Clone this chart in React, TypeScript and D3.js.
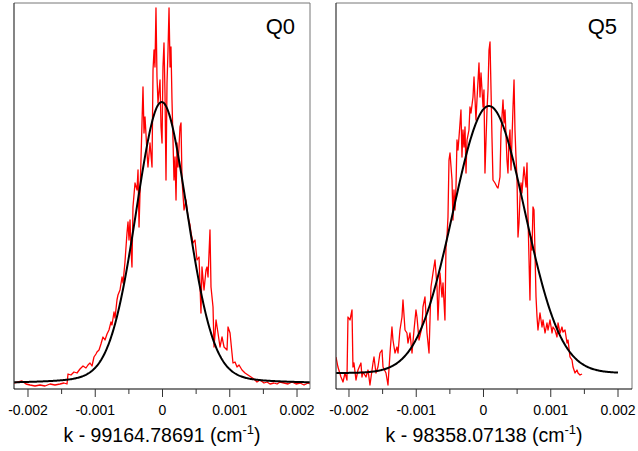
import React from "react";
import * as d3 from "d3";

// x in units of 1e-3 cm^-1 (offset from line centre), y in arbitrary intensity units
const q0Points: [number, number][] = [
  [-2.208,1],[-2.149,2],[-2.089,3],[-2.030,0],[-1.970,-1],[-1.896,-2],[-1.822,-1],[-1.747,-2],[-1.673,0],[-1.599,-1],
  [-1.524,0],[-1.465,1],[-1.420,0],[-1.405,10],[-1.361,9],[-1.316,12],[-1.271,11],[-1.227,15],[-1.182,18],[-1.138,16],
  [-1.108,19],[-1.078,21],[-1.048,18],[-1.019,27],[-0.989,30],[-0.974,32],[-0.944,34],[-0.915,40],[-0.885,47],[-0.855,44],
  [-0.825,50],[-0.796,54],[-0.766,62],[-0.751,59],[-0.721,72],[-0.706,66],[-0.677,84],[-0.662,89],[-0.632,94],[-0.602,107],
  [-0.587,101],[-0.558,122],[-0.528,151],[-0.513,162],[-0.498,144],[-0.483,164],[-0.468,134],[-0.454,117],[-0.439,177],[-0.409,201],
  [-0.379,194],[-0.364,214],[-0.349,157],[-0.320,224],[-0.305,261],[-0.290,297],[-0.275,251],[-0.260,267],[-0.230,231],[-0.216,217],
  [-0.186,241],[-0.156,217],[-0.141,314],[-0.126,334],[-0.112,317],[-0.097,376],[-0.082,307],[-0.067,281],[-0.037,304],[-0.022,257],
  [-0.007,241],[0.007,317],[0.022,341],[0.037,291],[0.052,204],[0.067,301],[0.082,334],[0.097,376],[0.112,317],[0.126,337],
  [0.141,284],[0.156,244],[0.171,204],[0.186,227],[0.201,184],[0.216,241],[0.230,217],[0.260,257],[0.275,261],[0.290,204],
  [0.320,174],[0.349,184],[0.379,167],[0.409,159],[0.424,151],[0.454,141],[0.483,144],[0.513,124],[0.543,127],[0.572,71],
  [0.587,117],[0.617,94],[0.647,114],[0.662,117],[0.677,107],[0.706,154],[0.721,97],[0.751,77],[0.766,37],[0.796,64],
  [0.825,51],[0.855,37],[0.885,47],[0.915,37],[0.959,34],[0.974,57],[1.004,51],[1.033,31],[1.048,21],[1.078,22],
  [1.108,17],[1.138,19],[1.182,14],[1.227,11],[1.271,9],[1.316,7],[1.361,5],[1.405,2],[1.450,4],[1.509,1],
  [1.554,2],[1.599,0],[1.658,1],[1.703,0],[1.747,2],[1.807,1],[1.866,0],[1.926,2],[1.985,0],[2.045,1],
  [2.104,-1],[2.164,1],[2.193,0],
];

const q5Points: [number, number][] = [
  [-2.193,16],[-2.164,6],[-2.119,-4],[-2.089,-9],[-2.059,0],[-2.030,-7],[-2.015,56],[-1.985,53],[-1.955,63],[-1.941,6],
  [-1.926,10],[-1.896,-7],[-1.866,3],[-1.822,10],[-1.807,-4],[-1.792,1],[-1.747,-4],[-1.717,3],[-1.688,-12],[-1.643,10],
  [-1.628,16],[-1.599,0],[-1.569,6],[-1.539,20],[-1.509,23],[-1.494,6],[-1.450,0],[-1.420,-12],[-1.390,20],[-1.361,46],
  [-1.346,33],[-1.316,20],[-1.286,26],[-1.271,20],[-1.242,43],[-1.212,56],[-1.197,73],[-1.167,43],[-1.138,40],[-1.123,30],
  [-1.093,40],[-1.063,20],[-1.033,43],[-1.004,63],[-0.989,56],[-0.959,33],[-0.915,46],[-0.900,66],[-0.870,76],[-0.840,40],
  [-0.810,20],[-0.781,86],[-0.751,100],[-0.721,113],[-0.691,86],[-0.677,53],[-0.647,100],[-0.617,76],[-0.602,90],[-0.573,53],
  [-0.558,126],[-0.543,136],[-0.528,156],[-0.513,213],[-0.498,220],[-0.468,193],[-0.454,153],[-0.439,183],[-0.424,163],[-0.409,186],
  [-0.394,233],[-0.379,223],[-0.364,236],[-0.335,263],[-0.320,216],[-0.305,243],[-0.290,226],[-0.275,246],[-0.260,200],[-0.245,233],
  [-0.216,243],[-0.201,266],[-0.186,260],[-0.156,276],[-0.141,296],[-0.112,253],[-0.097,273],[-0.067,310],[-0.052,276],[-0.037,300],
  [-0.007,266],[0.007,283],[0.022,200],[0.052,263],[0.067,283],[0.082,323],[0.097,331],[0.112,283],[0.126,236],[0.141,193],
  [0.171,190],[0.201,186],[0.216,185],[0.245,196],[0.260,240],[0.290,273],[0.305,250],[0.320,263],[0.349,213],[0.364,200],
  [0.379,233],[0.394,243],[0.409,203],[0.439,266],[0.454,293],[0.468,243],[0.483,216],[0.498,195],[0.513,136],[0.528,150],
  [0.543,176],[0.558,190],[0.572,180],[0.602,206],[0.632,186],[0.647,210],[0.662,156],[0.691,73],[0.706,136],[0.721,123],
  [0.736,166],[0.751,163],[0.781,76],[0.796,56],[0.810,43],[0.840,60],[0.870,46],[0.885,53],[0.915,40],[0.944,50],
  [0.959,43],[0.989,53],[1.019,40],[1.033,46],[1.063,43],[1.093,36],[1.108,50],[1.138,40],[1.167,46],[1.182,41],
  [1.212,43],[1.242,30],[1.257,33],[1.286,16],[1.316,13],[1.331,6],[1.361,0],[1.390,3],[1.405,0],[1.435,-2],
  [1.465,-1],
];

// fit parameters: [centre (1e-3 cm^-1), HWHM (1e-3 cm^-1), Lorentz fraction, amplitude, offset]
const q0Fit = [-0.012, 0.4535, 0.15, 282, 0];
const q5Fit = [0.082, 0.627, 0, 267, 0];

const tickValues = [-0.002, -0.001, 0, 0.001, 0.002];
const tickLabels = ["-0.002", "-0.001", "0", "0.001", "0.002"];
const minorTicks = [-0.0015, -0.0005, 0.0005, 0.0015];

const panelLabels = ["Q0", "Q5"];
const axisOffsets = ["99164.78691", "98358.07138"];

const FONT = "'Liberation Sans', Arial, Helvetica, sans-serif";

function model(p: number[], k: number) {
  const [c, w, eta, A, off] = p;
  const u = (k - c) / w;
  return off + A * ((1 - eta) * Math.exp(-Math.LN2 * u * u) + eta / (1 + u * u));
}

function Panel(props: {
  left: number;
  xDomain: [number, number];
  yDomain: [number, number];
  points: [number, number][];
  fit: number[];
  fitRange: [number, number];
  label: string;
  offset: string;
}) {
  const { left, xDomain, yDomain, points, fit, fitRange, label, offset } = props;
  const top = 3;
  const bottom = 389;
  const right = left + 296;
  const x = d3.scaleLinear().domain(xDomain).range([left, right]);
  const y = d3.scaleLinear().domain(yDomain).range([bottom, top]);
  const line = d3
    .line<[number, number]>()
    .x((d) => x(d[0] * 1e-3))
    .y((d) => y(d[1]));
  const n = 400;
  const fitPts: [number, number][] = d3.range(n + 1).map((i) => {
    const k = fitRange[0] + ((fitRange[1] - fitRange[0]) * i) / n;
    return [k, model(fit, k)];
  });
  const clipId = "clip-" + label;
  const cx = (left + right) / 2;
  return (
    <g>
      <defs>
        <clipPath id={clipId}>
          <rect x={left} y={top} width={right - left} height={bottom - top} />
        </clipPath>
      </defs>
      <g clipPath={`url(#${clipId})`}>
        <path d={line(points) || ""} fill="none" stroke="#ff0000" strokeWidth={1.3} strokeLinejoin="round" />
        <path d={line(fitPts) || ""} fill="none" stroke="#000" strokeWidth={2} />
      </g>
      <line x1={left} x2={right} y1={top} y2={top} stroke="#777" strokeWidth={1} />
      <line x1={right} x2={right} y1={top} y2={bottom} stroke="#777" strokeWidth={1} />
      <line x1={left} x2={left} y1={top} y2={bottom} stroke="#333" strokeWidth={1.2} />
      <line x1={left} x2={right} y1={bottom} y2={bottom} stroke="#000" strokeWidth={1.2} />
      {tickValues.map((t, i) => (
        <g key={"t" + i}>
          <line x1={x(t)} x2={x(t)} y1={bottom} y2={bottom + 8} stroke="#333" strokeWidth={1} />
          <text x={x(t)} y={415} textAnchor="middle" fontSize={14} fontFamily={FONT} fill="#000">
            {tickLabels[i]}
          </text>
        </g>
      ))}
      {minorTicks.map((t, i) => (
        <line key={"m" + i} x1={x(t)} x2={x(t)} y1={bottom} y2={bottom + 5} stroke="#333" strokeWidth={1} />
      ))}
      <text x={right - 15} y={34} textAnchor="end" fontSize={22} fontFamily={FONT} fill="#000">
        {label}
      </text>
      <text x={cx} y={442} textAnchor="middle" fontSize={19.5} fontFamily={FONT} fill="#000">
        {`k - ${offset} (cm`}
        <tspan dy={-8} fontSize={13}>-1</tspan>
        <tspan dy={8}>)</tspan>
      </text>
    </g>
  );
}

export default function App() {
  return (
    <svg
      width={638}
      height={451}
      style={{ position: "fixed", left: 0, top: 0, background: "#fff" }}
    >
      <rect width={638} height={451} fill="#fff" />
      <Panel
        left={14}
        xDomain={[-0.002208, 0.002193]}
        yDomain={[-5, 381]}
        points={q0Points}
        fit={q0Fit}
        fitRange={[-2.3, 2.3]}
        label={panelLabels[0]}
        offset={axisOffsets[0]}
      />
      <Panel
        left={336}
        xDomain={[-0.002193, 0.002208]}
        yDomain={[-16, 370]}
        points={q5Points}
        fit={q5Fit}
        fitRange={[-2.3, 2.0]}
        label={panelLabels[1]}
        offset={axisOffsets[1]}
      />
    </svg>
  );
}
